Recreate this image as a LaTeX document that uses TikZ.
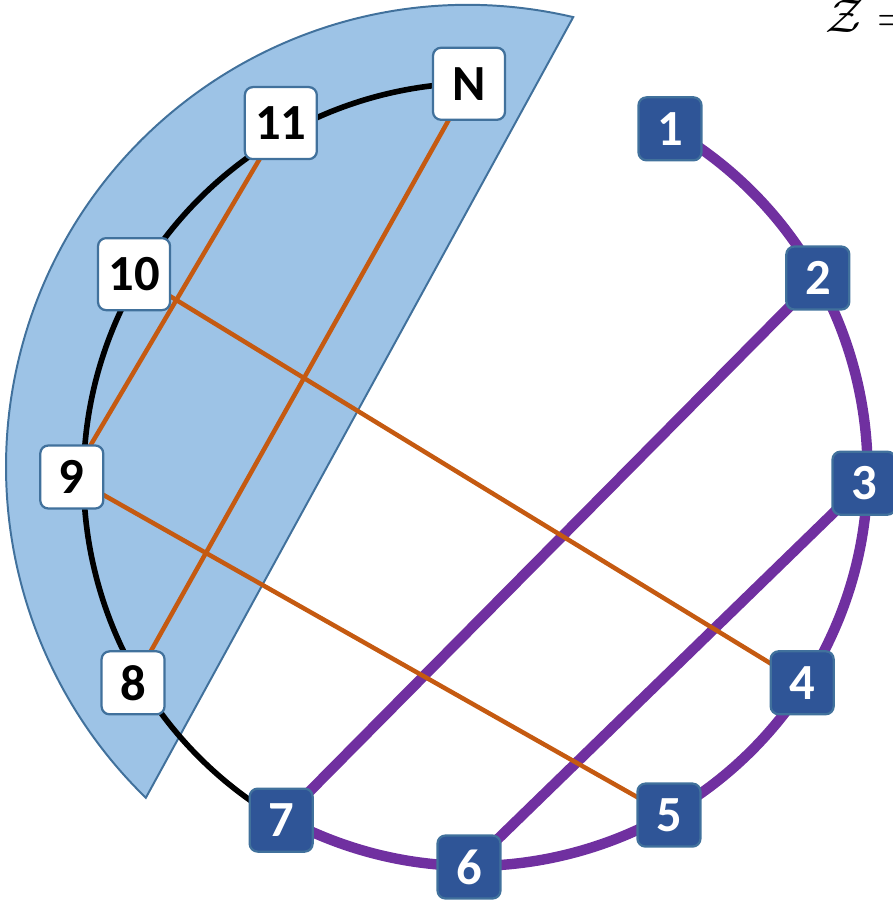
\documentclass[tikz,border=0pt]{standalone}
\usepackage{fontspec}
\usepackage{amsmath,amssymb}
\usepackage{tikz}
\newfontfamily\labelfont{Carlito}
\pgfdeclarelayer{sector}
\pgfdeclarelayer{links}
\pgfsetlayers{sector,links,main}
\newcommand{\Rad}{9.875}
\definecolor{boxblue}{HTML}{2F5597}
\definecolor{edgeblue}{HTML}{41719C}
\definecolor{wedgeblue}{HTML}{9DC3E6}
\definecolor{chordpurple}{HTML}{7030A0}
\definecolor{chordorange}{HTML}{C55A11}

\begin{document}
\begin{tikzpicture}[
  dark/.style={rectangle,rounded corners=0.2cm,draw=edgeblue,line width=1.6pt,fill=boxblue,text=white,minimum size=1.575cm,inner sep=0pt,font=\labelfont\bfseries\fontsize{36}{40}\selectfont},
  light/.style={dark,fill=white,text=black},
  big/.style={minimum size=1.8cm},
  thickarc/.style={line width=7.4pt,draw=chordpurple},
  thinline/.style={line width=3.2pt,draw=chordorange},
  rim/.style={line width=4pt,draw=black}
]
\useasboundingbox (-11.725,-10.575) rectangle (10.575,11.925);

% positions on the ring
\node[dark] (v1) at (60:10.05) {1};
\node[dark] (v2) at (29.7:10.04) {2};
\node[dark] (v3) at (-0.9:9.875) {3};
\node[dark] (v4) at (-31.7:9.79) {4};
\node[dark] (v5) at (-59.4:9.82) {5};
\node[dark] (v6) at (-90:9.75) {6};
\node[dark] (v7) at (-118.7:9.78) {7};
\node[light] (v8) at (-148.5:9.85) {8};
\node[light] (v9) at (180:9.93) {9};
\node[light,big] (v10) at (148.8:9.79) {10};
\node[light,big] (v11) at (118:10.02) {11};
\node[light,big] (vN) at (90:9.83) {N};

\node[anchor=base west,inner sep=0pt,font=\Huge,scale=1.37] (zlabel) at (8.9,11.1) {$\mathcal{Z} =$};

% shaded region
\begin{pgfonlayer}{sector}
\begin{scope}[shift={(-0.03,0.2575)}]
\filldraw[fill=wedgeblue,draw=edgeblue,line width=1.4pt] (76.8:11.545) arc[start angle=76.8,end angle=225.8,radius=11.545] -- cycle;
\end{scope}
\end{pgfonlayer}

% ring and chords
\begin{pgfonlayer}{links}
\draw[rim] (v7.center) arc[start angle=240,end angle=90,radius=\Rad];
\draw[thickarc] (v1.center) arc[start angle=60,end angle=-120,radius=\Rad];
\draw[thickarc] (v2.center) -- (v7.center);
\draw[thickarc] (v3.center) -- (v6.center);
\draw[thinline] (v11.center) -- (v9.center);
\draw[thinline] (vN.center) -- (v8.center);
\draw[thinline] (v10.center) -- (v4.center);
\draw[thinline] (v9.center) -- (v5.center);
\end{pgfonlayer}
\end{tikzpicture}
\end{document}
